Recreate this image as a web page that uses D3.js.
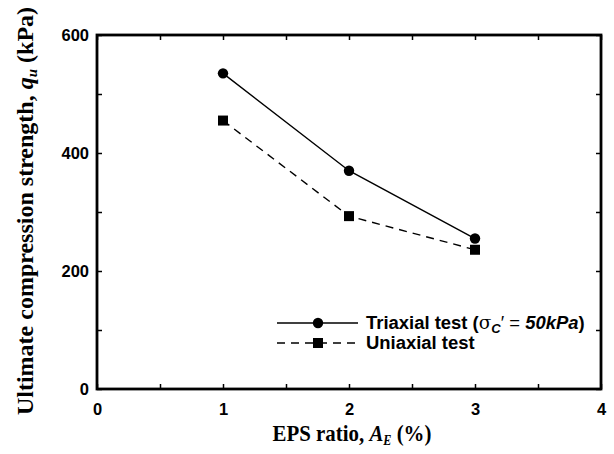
<!DOCTYPE html>
<html>
<head>
<meta charset="utf-8">
<script src="https://cdn.jsdelivr.net/npm/d3@7"></script>
<style>
  body { margin: 0; background: #fff; }
  text { fill: #000; }
</style>
</head>
<body>
<div id="chart"></div>
<script>
// data
const epsRatio = [1, 2, 3];
const triaxial = [535, 370, 255];
const uniaxial = [455, 293, 236];
const xTicks = [0, 1, 2, 3, 4];
const yTicks = [0, 200, 400, 600];
const legendNames = ["Triaxial test", "Uniaxial test"];

const wSvg = 614;
const hSvg = 454;
const pLeft = 97, pRight = 601, pTop = 35, pBottom = 389;

const svg = d3.select("#chart")
    .append("svg")
    .attr("width", wSvg)
    .attr("height", hSvg);

// Scales
const xScale = d3.scaleLinear([0, 4], [pLeft, pRight]);
const yScale = d3.scaleLinear([0, 600], [pBottom, pTop]);

const tickFont = "Arial, 'Liberation Sans', sans-serif";

// Axis (ticks inward, on all four sides)
function styleAxis(g) {
    g.selectAll(".domain").remove();
    g.selectAll("line").attr("stroke", "#000").attr("stroke-width", 1.5);
    g.selectAll("text")
        .style("font-family", tickFont)
        .style("font-weight", "bold")
        .style("font-size", "16.5px");
}

svg.append("g")
    .attr("transform", `translate(0, ${pBottom})`)
    .call(d3.axisBottom(xScale).tickValues(d3.range(0, 4.01, 0.5))
        .tickSize(-5).tickPadding(14)
        .tickFormat(d => xTicks.includes(d) ? d : ""))
    .call(styleAxis);

svg.append("g")
    .attr("transform", `translate(0, ${pTop})`)
    .call(d3.axisTop(xScale).tickValues(d3.range(0, 4.01, 0.5))
        .tickSize(-5).tickFormat(""))
    .call(styleAxis);

svg.append("g")
    .attr("transform", `translate(${pLeft}, 0)`)
    .call(d3.axisLeft(yScale).tickValues(d3.range(0, 601, 100))
        .tickSize(-5).tickPadding(8)
        .tickFormat(d => yTicks.includes(d) ? d : ""))
    .call(styleAxis);

svg.append("g")
    .attr("transform", `translate(${pRight}, 0)`)
    .call(d3.axisRight(yScale).tickValues(d3.range(0, 601, 100))
        .tickSize(-5).tickFormat(""))
    .call(styleAxis);

// frame
svg.append("rect")
    .attr("x", pLeft).attr("y", pTop)
    .attr("width", pRight - pLeft).attr("height", pBottom - pTop)
    .attr("fill", "none").attr("stroke", "#000").attr("stroke-width", 2.8);

// Lines
const series = [
    { values: triaxial, dash: null, marker: "circle" },
    { values: uniaxial, dash: "8,6", marker: "square" }
];

const line = d3.line()
    .x(d => xScale(d[0]))
    .y(d => yScale(d[1]));

function drawMarker(g, kind, x, y) {
    if (kind === "circle") {
        g.append("circle").attr("cx", x).attr("cy", y).attr("r", 5.2).attr("fill", "#000");
    } else {
        g.append("rect").attr("x", x - 5).attr("y", y - 5)
            .attr("width", 10).attr("height", 10).attr("fill", "#000");
    }
}

for (let s of series) {
    const pts = epsRatio.map((x, i) => [x, s.values[i]]);
    svg.append("path")
        .attr("d", line(pts))
        .attr("fill", "none")
        .attr("stroke", "#000")
        .attr("stroke-width", 1.4)
        .attr("stroke-dasharray", s.dash);
    const g = svg.append("g");
    for (let p of pts) {
        drawMarker(g, s.marker, xScale(p[0]), yScale(p[1]));
    }
}

// Legend
const legY = [323, 343];
const legTexts = [];
series.forEach((s, i) => {
    const g = svg.append("g");
    g.append("line")
        .attr("x1", 277).attr("x2", 358)
        .attr("y1", legY[i]).attr("y2", legY[i])
        .attr("stroke", "#000").attr("stroke-width", 1.4)
        .attr("stroke-dasharray", s.dash);
    drawMarker(g, s.marker, 318, legY[i]);
    const t = g.append("text")
        .attr("x", 366).attr("y", legY[i] + 6)
        .style("font-family", tickFont)
        .style("font-weight", "bold")
        .style("font-size", "18px")
        .text(legendNames[i]);
    if (i === 0) {
        t.append("tspan").text(" (");
        t.append("tspan").style("font-family", "'DejaVu Serif', serif").style("font-weight", "normal").text("σ");
        t.append("tspan").attr("dy", 4).style("font-size", "13px").style("font-style", "italic").text("C");
        t.append("tspan").attr("dy", -4).style("font-weight", "normal").text("′ = ");
        t.append("tspan").style("font-style", "italic").text("50kPa");
        t.append("tspan").text(")");
    }
    legTexts.push(t);
});
// fit the long legend entry to the width it has in the reference (366..585)
const legW = legTexts[0].node().getBBox().width;
const legSize = 18 * 219 / legW;
legTexts.forEach(t => t.style("font-size", legSize + "px"));

// Axis titles
const titleFont = "'Liberation Serif', 'Times New Roman', serif";
const xt = svg.append("text")
    .attr("text-anchor", "middle")
    .style("font-family", titleFont)
    .style("font-weight", "bold")
    .style("font-size", "24px");
xt.append("tspan").text("EPS ratio, ");
xt.append("tspan").style("font-style", "italic").text("A");
xt.append("tspan").attr("dy", 4).style("font-style", "italic").style("font-size", "14px").text("E");
xt.append("tspan").attr("dy", -4).text(" (%)");
const xtW = xt.node().getBBox().width;
xt.attr("transform", `translate(352, 441) scale(${159 / xtW}, 1)`);

const yt = svg.append("text")
    .attr("transform", "translate(33, 211) rotate(-90)")
    .attr("text-anchor", "middle")
    .style("font-family", titleFont)
    .style("font-weight", "bold")
    .style("font-size", "24px");
yt.append("tspan").text("Ultimate compression strength, ");
yt.append("tspan").style("font-style", "italic").text("q");
yt.append("tspan").attr("dy", 4).style("font-style", "italic").style("font-size", "15px").text("u");
yt.append("tspan").attr("dy", -4).text(" (kPa)");
</script>
</body>
</html>
